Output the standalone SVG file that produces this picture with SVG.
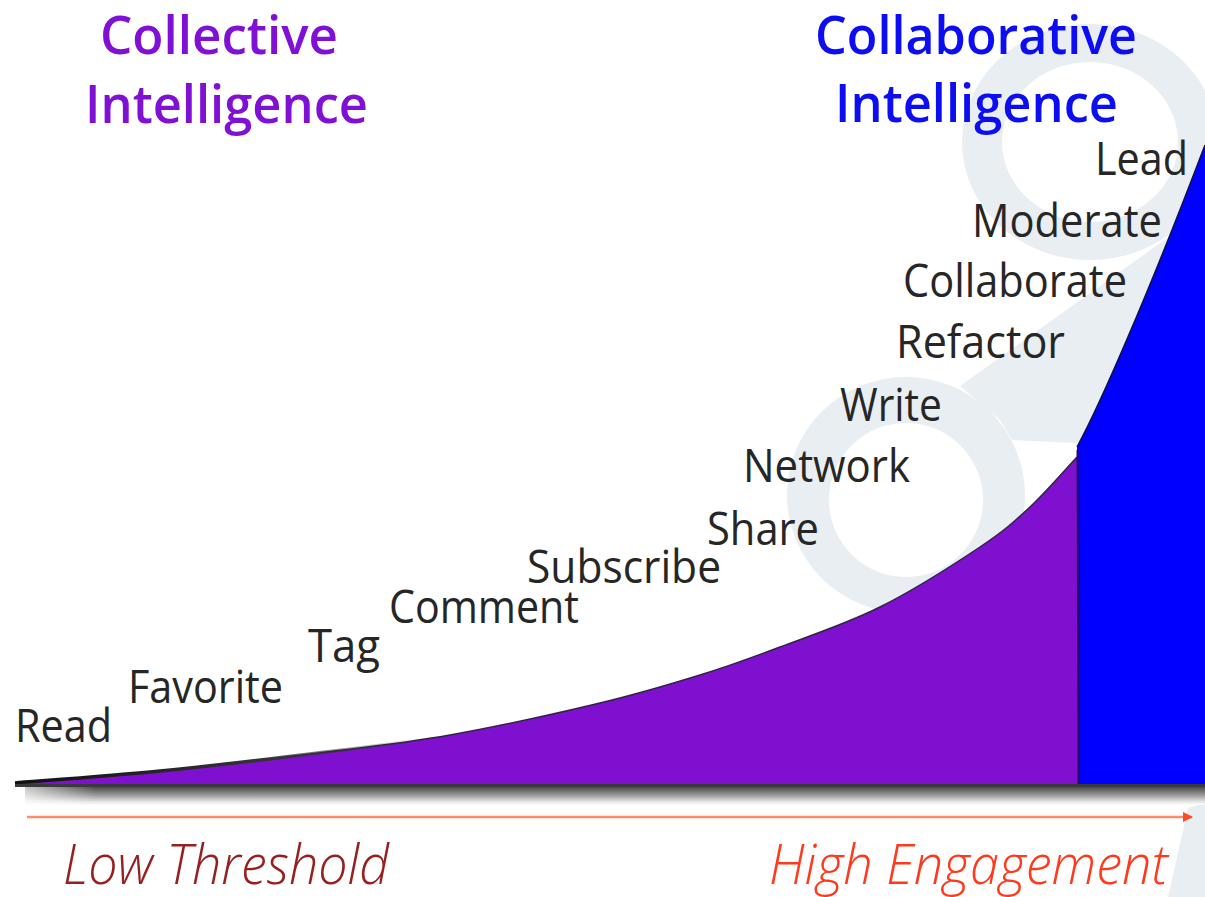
<svg xmlns="http://www.w3.org/2000/svg" width="1205" height="897" viewBox="0 0 1205 897">
  <defs>
    <style>
      .word { font-family: "Open Sans", "Liberation Sans", sans-serif; font-size: 46px; fill: #262626; }
      .title { font-family: "Open Sans", "Liberation Sans", sans-serif; font-size: 52px; font-weight: 600; }
      .purple { fill: #7f10d4; }
      .blue { fill: #0d0df2; }
      .axis { font-family: "Open Sans", "Liberation Sans", sans-serif; font-size: 55px; font-style: italic; font-weight: 300; }
      .wm { fill: #e9eef2; }
    </style>
    <linearGradient id="shadow" x1="0" y1="0" x2="0" y2="1">
      <stop offset="0" stop-color="#4a4a4a"/>
      <stop offset="0.45" stop-color="#9a9a9a"/>
      <stop offset="0.8" stop-color="#e2e2e2"/>
      <stop offset="1" stop-color="#ffffff"/>
    </linearGradient>
    <linearGradient id="shadowH" x1="0" y1="0" x2="1" y2="0">
      <stop offset="0" stop-color="#ffffff" stop-opacity="0.7"/>
      <stop offset="0.06" stop-color="#ffffff" stop-opacity="0"/>
    </linearGradient>
    <linearGradient id="tail" x1="15" y1="0" x2="420" y2="0" gradientUnits="userSpaceOnUse">
      <stop offset="0" stop-color="#111111"/>
      <stop offset="0.6" stop-color="#333333"/>
      <stop offset="1" stop-color="#333333" stop-opacity="0"/>
    </linearGradient>
    <marker id="arrow" viewBox="0 0 10 10" refX="9" refY="5" markerWidth="4" markerHeight="4" orient="auto">
      <path d="M0,0 L10,5 L0,10 z" fill="#ff4a26"/>
    </marker>
  </defs>

  <rect width="1205" height="897" fill="#ffffff"/>

  <!-- faint watermark -->
  <g id="watermark">
    <path class="wm" fill-rule="evenodd" d="M962,142 a128,118 0 1,0 256,0 a128,118 0 1,0 -256,0 Z M1002,142 a88,80 0 1,0 176,0 a88,80 0 1,0 -176,0 Z"/>
    <path class="wm" fill-rule="evenodd" d="M787,495 a119,118 0 1,0 238,0 a119,118 0 1,0 -238,0 Z M829,500 a77,77 0 1,0 154,0 a77,77 0 1,0 -154,0 Z"/>
    <path class="wm" d="M960,386 L1170,236 L1205,236 L1205,420 L1075,443 L1012,440 L1000,420 Z"/>
    <path class="wm" d="M1188,808 L1205,803 L1205,897 L1168,897 Z"/>
  </g>

  <!-- areas -->
  <g id="area-collective">
    <path fill="#8010d0" d="M15,783 C39.2,781 109.5,776 160,771 C210.5,766 269.7,759 318,753 C366.3,747 403,743.3 450,735 C497,726.7 558.3,713 600,703 C641.7,693 670,684.3 700,675 C730,665.7 750,658.3 780,647 C810,635.7 846.7,623.7 880,607 C913.3,590.3 955,563.7 980,547 C1005,530.3 1013.8,522 1030,507 C1046.2,492 1069.2,465.3 1077,457 L1078,786 L15,786 Z"/>
  </g>
  <g id="area-collaborative">
    <path fill="#0000ff" d="M1077,447 C1100,405 1150,290 1205,145 L1205,786 L1078,786 Z"/>
  </g>

  <g id="edges">
    <path fill="none" stroke="#2e2440" stroke-width="1.5" d="M15,783 C39.2,781 109.5,776 160,771 C210.5,766 269.7,759 318,753 C366.3,747 403,743.3 450,735 C497,726.7 558.3,713 600,703 C641.7,693 670,684.3 700,675 C730,665.7 750,658.3 780,647 C810,635.7 846.7,623.7 880,607 C913.3,590.3 955,563.7 980,547 C1005,530.3 1013.8,522 1030,507 C1046.2,492 1069.2,465.3 1077,457"/>
    <path fill="none" stroke="url(#tail)" stroke-width="3.5" d="M15,783 C39.2,781 109.5,776 160,771 C210.5,766 269.7,759 318,753 C366.3,747 403,743.3 450,735"/>
    <path fill="none" stroke="#10104a" stroke-width="1.5" d="M1077,447 C1100,405 1150,290 1205,145"/>
    <line x1="1077.5" y1="450" x2="1078.5" y2="786" stroke="#2a0a5a" stroke-width="2"/>
    <rect x="15" y="784" width="1190" height="3" fill="#3a3a3a"/>
    <rect x="25" y="787" width="1180" height="18" fill="url(#shadow)"/>
    <rect x="25" y="787" width="1180" height="18" fill="url(#shadowH)"/>
  </g>

  <!-- axis arrow -->
  <g id="connectors">
    <line x1="27" y1="817" x2="1192" y2="817" stroke="#ff8a6e" stroke-width="2.5" marker-end="url(#arrow)"/>
  </g>

  <!-- titles -->
  <g id="title-collective">
    <text class="title purple" x="100" y="54" textLength="238" lengthAdjust="spacingAndGlyphs">Collective</text>
    <text class="title purple" x="85" y="123" textLength="283" lengthAdjust="spacingAndGlyphs">Intelligence</text>
  </g>
  <g id="title-collaborative">
    <text class="title blue" x="815" y="54" textLength="322" lengthAdjust="spacingAndGlyphs">Collaborative</text>
    <text class="title blue" x="835" y="122" textLength="283" lengthAdjust="spacingAndGlyphs">Intelligence</text>
  </g>

  <!-- activity words -->
  <g id="w-read"><text class="word" x="15" y="742" textLength="97" lengthAdjust="spacingAndGlyphs">Read</text></g>
  <g id="w-favorite"><text class="word" x="128" y="703" textLength="155" lengthAdjust="spacingAndGlyphs">Favorite</text></g>
  <g id="w-tag"><text class="word" x="308" y="662" textLength="72" lengthAdjust="spacingAndGlyphs">Tag</text></g>
  <g id="w-comment"><text class="word" x="389" y="623" textLength="190" lengthAdjust="spacingAndGlyphs">Comment</text></g>
  <g id="w-subscribe"><text class="word" x="527" y="583" textLength="194" lengthAdjust="spacingAndGlyphs">Subscribe</text></g>
  <g id="w-share"><text class="word" x="707" y="545" textLength="112" lengthAdjust="spacingAndGlyphs">Share</text></g>
  <g id="w-network"><text class="word" x="743" y="482" textLength="167" lengthAdjust="spacingAndGlyphs">Network</text></g>
  <g id="w-write"><text class="word" x="840" y="421" textLength="102" lengthAdjust="spacingAndGlyphs">Write</text></g>
  <g id="w-refactor"><text class="word" x="896" y="358" textLength="169" lengthAdjust="spacingAndGlyphs">Refactor</text></g>
  <g id="w-collaborate"><text class="word" x="903" y="297" textLength="224" lengthAdjust="spacingAndGlyphs">Collaborate</text></g>
  <g id="w-moderate"><text class="word" x="972" y="237" textLength="190" lengthAdjust="spacingAndGlyphs">Moderate</text></g>
  <g id="w-lead"><text class="word" x="1095" y="175" textLength="93" lengthAdjust="spacingAndGlyphs">Lead</text></g>

  <!-- axis labels -->
  <g id="label-low"><text class="axis" x="63" y="884" fill="#962020" textLength="326" lengthAdjust="spacingAndGlyphs">Low Threshold</text></g>
  <g id="label-high"><text class="axis" x="769" y="884" fill="#ff3a1c" textLength="399" lengthAdjust="spacingAndGlyphs">High Engagement</text></g>
</svg>
